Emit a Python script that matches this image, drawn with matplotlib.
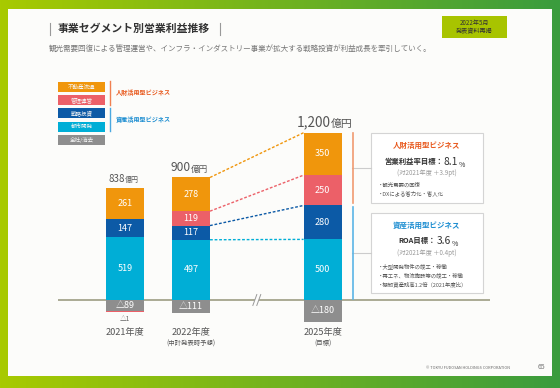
import numpy as np
import matplotlib
matplotlib.use("Agg")
from matplotlib import pyplot as plt
from matplotlib.patches import Rectangle, Polygon

plt.rcParams['font.family'] = ['Noto Sans CJK JP', 'DejaVu Sans']

# data
years = ['2021年度', '2022年度', '2025年度']
year_notes = ['', '(中計発表時予想)', '(目標)']
positions = [0, 1, 3]
toshi = [519, 497, 500]        # 都市開発
senryaku = [147, 117, 280]     # 戦略投資
kanri = [-1, 119, 250]         # 管理運営
fudosan = [261, 278, 350]      # 不動産流通
zensha = [-89, -111, -180]     # 全社/消去
totals = ['838', '900', '1,200']
total_sizes = [7, 8.6, 9.8]
total_shift = [0, 0, 6]

seg_names = ['不動産流通', '管理運営', '戦略投資', '都市開発', '全社/消去']
c_orange = '#f0960c'
c_red = '#ec6068'
c_navy = '#0c5aa6'
c_cyan = '#00aed6'
c_gray = '#8e8e8e'
seg_colors = [c_orange, c_red, c_navy, c_cyan, c_gray]

W, H = 560, 388
fig = plt.figure(figsize=(W / 100, H / 100), dpi=100)

# background: gradient frame + white card
bg = fig.add_axes([0, 0, 1, 1], zorder=0)
bg.set_xlim(0, W)
bg.set_ylim(H, 0)
bg.axis('off')
t = np.linspace(0, 1, 256)
left = np.array([168, 202, 0]) / 255
right = np.array([58, 156, 62]) / 255
grad = (left[None, :] * (1 - t[:, None]) + right[None, :] * t[:, None])[None, :, :]
bg.imshow(grad, extent=[0, W, H, 0], aspect='auto')
bg.add_patch(Rectangle((8, 9), 544, 367, facecolor='#fcfcfa', edgecolor='none'))

# title
bg.plot([50, 50], [23, 35], color='#999999', lw=0.8)
bg.plot([220, 220], [23, 35], color='#999999', lw=0.8)
bg.text(58, 29, '事業セグメント別営業利益推移', fontsize=7.8, fontweight='bold',
        color='#333333', va='center', ha='left')
bg.text(49, 50, '観光需要回復による管理運営や、インフラ・インダストリー事業が拡大する戦略投資が利益成長を牽引していく。',
        fontsize=5.45, color='#777777', va='center', ha='left')
bg.add_patch(Rectangle((442, 16), 65, 22, facecolor='#a8c400', edgecolor='none'))
bg.text(474.5, 22.5, '2022年5月', fontsize=4.4, color='#333333', ha='center', va='center')
bg.text(474.5, 31, '発表資料再掲', fontsize=4.4, color='#333333', ha='center', va='center')

# legend
leg_y = [82, 95, 108, 122, 135]
for name, col, y in zip(seg_names, seg_colors, leg_y):
    bg.add_patch(Rectangle((58, y), 47, 9.5, facecolor=col, edgecolor='none'))
    bg.text(81.5, y + 4.9, name, fontsize=4, color='#f4f4f4', ha='center', va='center')
bg.plot([110, 110], [81, 105], color='#f08050', lw=1)
bg.plot([110, 110], [108, 131], color='#4aa8e0', lw=1)
bg.text(116, 92.5, '人財活用型ビジネス', fontsize=4.4, fontweight='bold', color='#e8581c', va='center')
bg.text(116, 119.5, '資産活用型ビジネス', fontsize=4.4, fontweight='bold', color='#1a8cd0', va='center')

# chart
ax = fig.add_axes([58 / W, 1 - 340 / H, 432 / W, 240 / H], zorder=1)
ax.patch.set_alpha(0)
ax.axis('off')
ax.set_xlim((58 - 125) / 65.9, (490 - 125) / 65.9)
ax.set_ylim(-330, 1650)
ax.axhline(0, color='#aaaa94', lw=1.4, zorder=1)

bw = 0.58
tops = {}
for i, x in enumerate(positions):
    base = 0
    stack = [(toshi[i], c_cyan), (senryaku[i], c_navy), (kanri[i], c_red), (fudosan[i], c_orange)]
    bounds = []
    for v, col in stack:
        if v <= 0:
            bounds.append(base)
            continue
        ax.bar(x, v, bw, bottom=base, color=col, zorder=2)
        ax.text(x, base + v / 2, str(v), color='white', fontsize=6.5, ha='center', va='center', zorder=3)
        base += v
        bounds.append(base)
    tops[i] = bounds
    # negative part
    ax.bar(x, zensha[i], bw, bottom=0, color=c_gray, zorder=2)
    ax.text(x, zensha[i] / 2, '△' + str(-zensha[i]), color='white', fontsize=6.5,
            ha='center', va='center', zorder=3)
    if kanri[i] < 0:
        ax.bar(x, kanri[i] * 8, bw, bottom=zensha[i], color=c_red, zorder=2)
        ax.annotate('△' + str(-kanri[i]), (x, zensha[i] + kanri[i] * 8), xytext=(0, -2),
                    textcoords='offset points', ha='center', va='top', fontsize=4.8, color='#666666')
    # total label
    ax.annotate(totals[i], (x, base), xytext=(total_shift[i], 2.5), textcoords='offset points',
                ha='right', va='bottom', fontsize=total_sizes[i], color='#555555')
    ax.annotate('億円', (x, base), xytext=(total_shift[i], 2.5), textcoords='offset points',
                ha='left', va='bottom', fontsize=total_sizes[i] * (0.8 if i == 2 else 0.72),
                color='#555555')
    # year labels
    ax.annotate(years[i], (x, 0), xytext=(0, -23.5), textcoords='offset points',
                ha='center', va='center', fontsize=6.6, color='#555555')
    if year_notes[i]:
        ax.annotate(year_notes[i], (x, 0), xytext=(0, -31.5), textcoords='offset points',
                    ha='center', va='center', fontsize=4.6, color='#555555')

# dotted connectors between 2022 and 2025
for k, col in enumerate([c_cyan, c_navy, c_red, c_orange]):
    ax.plot([positions[1] + bw / 2, positions[2] - bw / 2], [tops[1][k], tops[2][k]],
            color=col, lw=1, linestyle=(0, (2, 1.3)), zorder=2)

# axis break mark
xb = (positions[1] + positions[2]) / 2
ax.add_patch(Polygon([[xb - 0.06, -45], [xb - 0.0, 45], [xb + 0.06, 45], [xb + 0.0, -45]],
                     closed=True, facecolor='#fcfcfa', edgecolor='none', zorder=3))
for dx in (-0.03, 0.03):
    ax.plot([xb + dx - 0.03, xb + dx + 0.03], [-45, 45], color='#999999', lw=0.7, zorder=4)

# brackets at right of 2025 bar
xr = positions[2] + 0.455
ax.plot([xr, xr], [tops[2][1] + 20, tops[2][3]], color='#f09a70', lw=1.2, zorder=2)
ax.plot([xr, xr], [5, tops[2][1] - 10], color='#5ab4e6', lw=1.2, zorder=2)

# side boxes
bg.plot([352, 371], [168, 168], color='#cccccc', lw=0.8)
bg.plot([352, 371], [253, 253], color='#cccccc', lw=0.8)
bg.add_patch(Rectangle((371, 133), 112, 70, facecolor='white', edgecolor='#d4d4d4', lw=0.8))
bg.add_patch(Rectangle((371, 213), 112, 80, facecolor='white', edgecolor='#d4d4d4', lw=0.8))


def target_line(x, y, label, value):
    lab = bg.text(x, y, label, fontsize=5.3, fontweight='bold', color='#333333', ha='right', va='baseline')
    num = bg.annotate(value, xy=(1, 0), xycoords=lab, xytext=(0.5, 0), textcoords='offset points',
                      fontsize=7.4, color='#333333', ha='left', va='baseline')
    bg.annotate('%', xy=(1, 0), xycoords=num, xytext=(0.5, 0), textcoords='offset points',
                fontsize=5, color='#333333', ha='left', va='baseline')


bg.text(427, 145, '人財活用型ビジネス', fontsize=5.4, fontweight='bold', color='#e8581c', ha='center', va='center')
target_line(443, 163.5, '営業利益率目標：', '8.1')
bg.text(427, 173, '(対2021年度 ＋3.9pt)', fontsize=4.5, color='#999999', ha='center', va='center')
bg.text(378, 185, '・観光需要の回復', fontsize=3.9, color='#555555', va='center')
bg.text(378, 193.5, '・DXによる省力化・省人化', fontsize=3.9, color='#555555', va='center')

bg.text(427, 225, '資産活用型ビジネス', fontsize=5.4, fontweight='bold', color='#1a8cd0', ha='center', va='center')
target_line(436, 243.5, 'ROA目標：', '3.6')
bg.text(427, 253, '(対2021年度 ＋0.4pt)', fontsize=4.5, color='#999999', ha='center', va='center')
bg.text(378, 266, '・大型開発物件の竣工・稼働', fontsize=3.9, color='#555555', va='center')
bg.text(378, 275, '・再エネ、物流施設等の竣工・稼働', fontsize=3.9, color='#555555', va='center')
bg.text(378, 284, '・棚卸資産残高1.2倍（2021年度比）', fontsize=3.9, color='#555555', va='center')

# footer
bg.text(510, 368, '© TOKYU FUDOSAN HOLDINGS CORPORATION', fontsize=2.8, color='#666666', ha='right', va='center')
bg.text(541, 367, '65', fontsize=5, color='#777777', ha='center', va='center')

fig.savefig('out.png', dpi=100)
